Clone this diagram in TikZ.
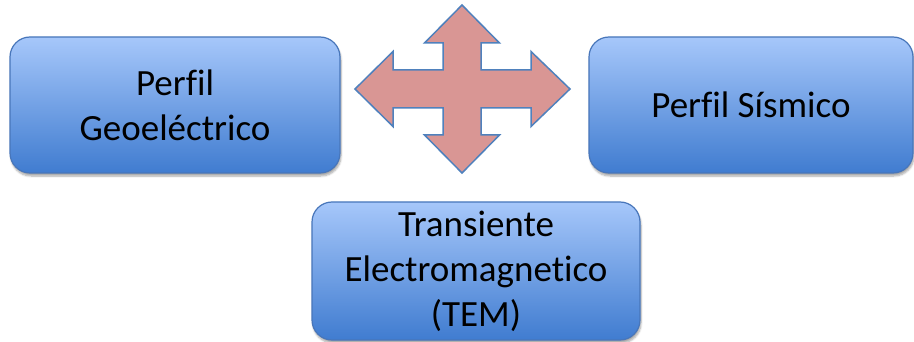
\documentclass[tikz,border=0pt]{standalone}
\usepackage{fontspec}
\setmainfont{Carlito}[Ligatures=NoCommon]
\definecolor{caja_top}{RGB}{166, 199, 250}
\definecolor{caja_bottom}{RGB}{64, 124, 208}
\definecolor{caja_borde}{RGB}{72, 118, 186}
\definecolor{flecha_fill}{RGB}{217, 150, 148}
\definecolor{flecha_borde}{RGB}{79, 129, 189}
\usetikzlibrary{shadows.blur}
\tikzset{
  metodo/.style={rounded corners=20pt, draw=caja_borde, line width=1.2pt,
    top color=caja_top, bottom color=caja_bottom, align=center,
    font=\fontsize{37}{45}\selectfont, inner sep=0pt,
    blur shadow={shadow xshift=1pt, shadow yshift=-3pt, shadow blur steps=6, shadow opacity=35}},
}

\begin{document}
\begin{tikzpicture}[x=1pt, y=-1pt]
        \useasboundingbox (0,0) rectangle (914,342);

        % --- Cajas de metodos ---
        \node[metodo, minimum width=330pt, minimum height=136pt] (geo) at (175,105) {Perfil\\Geoeléctrico};
        \node[metodo, minimum width=324pt, minimum height=136pt] (sismico) at (751,105) {Perfil Sísmico};
        \node[metodo, minimum width=328pt, minimum height=138pt] (tem) at (476,271) {Transiente\\Electromagnetico\\(TEM)};

        % --- Flecha de cuatro puntas ---
        \begin{scope}[shift={(462,89)}]
          \draw[flecha_borde, line width=1.5pt, fill=flecha_fill, line join=miter]
            (0,-84) -- (37.5,-46) -- (19,-46) -- (19,-19) -- (69,-19) -- (69,-37.5)
            -- (108,0) -- (69,37.5) -- (69,19) -- (19,19) -- (19,46) -- (37.5,46)
            -- (0,84) -- (-37.5,46) -- (-19,46) -- (-19,19) -- (-69,19) -- (-69,37.5)
            -- (-107,0) -- (-69,-37.5) -- (-69,-19) -- (-19,-19) -- (-19,-46) -- (-37.5,-46)
            -- cycle;
        \end{scope}
      \end{tikzpicture}
\end{document}
